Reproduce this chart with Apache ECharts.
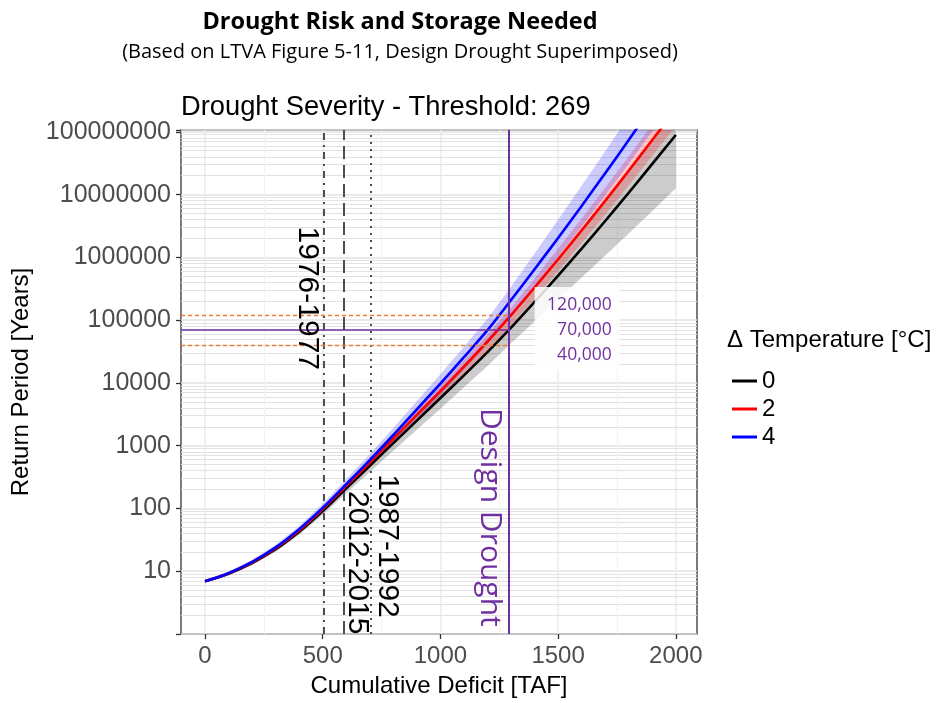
<!DOCTYPE html>
<html><head><meta charset="utf-8">
<script src="https://cdn.jsdelivr.net/npm/echarts@6/dist/echarts.min.js"></script>
<style>html,body{margin:0;padding:0;background:#fff}#c{width:940px;height:703px}</style>
</head><body><div id="c"></div>
<script>
// ---- data ----
const deficit = [0,100,200,300,400,500,600,700,800,900,1000,1100,1200,1300,1400,1500,1600,1700,1800,1900,2000];
// dT = 0
const rp0     = [6.9,9.1,13.5,22.4,42.7,91.2,209,479,1100,2510,5750,13200,30900,75900,195000,513000,1380000,3800000,10700000,30900000,89100000];
const rp0Low  = [6.6,8.7,12.6,20.4,38.0,79.4,174,380,832,1800,3890,8510,18600,42700,95500,214000,479000,1070000,2400000,5500000,12600000];
const rp0High = [7.2,9.5,14.5,24.0,46.8,102,240,575,1380,3310,7940,19500,49000,129000,355000,1000000,2880000,8510000,25700000,79400000,245000000];
// dT = 2
const rp2     = [6.9,9.2,13.8,23.2,44.7,97.7,229,537,1290,3090,7410,18200,45700,120000,331000,933000,2690000,7940000,24000000,74100000,229000000];
const rp2Low  = [6.6,8.8,13.0,21.6,40.7,87.1,197,447,1050,2430,5620,13300,32400,83200,221000,603000,1680000,4790000,14000000,41700000,124000000];
const rp2High = [7.2,9.7,14.6,24.8,49.0,110,260,624,1510,3720,9120,22900,58900,158000,457000,1380000,4170000,12900000,40700000,132000000,427000000];
// dT = 4
const rp4     = [6.9,9.3,14.1,24.0,46.8,102,243,589,1480,3800,9770,25700,69200,209000,646000,2040000,6610000,21900000,74100000,257000000,891000000];
const rp4Low  = [6.6,8.8,13.2,21.9,41.2,87.1,197,457,1100,2660,6460,16200,41700,120000,347000,1020000,3090000,9660000,30900000,102000000,339000000];
const rp4High = [7.2,9.9,15.1,26.3,52.5,119,292,733,1910,5130,13800,37600,105000,339000,1150000,3980000,13800000,49000000,178000000,661000000,2450000000];

const seriesNames = ['0','2','4'];
const droughtNames = ['1976-1977','2012-2015','1987-1992'];
const droughtDeficits = [505, 590, 705];
const designDrought = 1290;
const designRP = [120000, 70000, 40000];
const designRPLabels = ['120,000','70,000','40,000'];
const xTicks = [0,500,1000,1500,2000];
const xMinorTicks = [250,750,1250,1750];
const yTicks = [10,100,1000,10000,100000,1000000,10000000,100000000];

// ---- styling ----
const ARIAL = '"Liberation Sans", Arial, sans-serif';
const CAL = '"Open Sans", sans-serif';
const lineColors = ['#000000','#ff0000','#0000ff'];
const bandColors = ['rgba(0,0,0,0.2)','rgba(255,0,0,0.22)','rgba(0,0,255,0.2)'];
const PURPLE = '#7030a0', ORANGE = '#ed7d31';

const yMinor = [];
for (let k = 0; k < 8; k++) for (let m = 2; m <= 9; m++) yMinor.push(m * Math.pow(10, k));

const pairs = arr => deficit.map((x, i) => [x, arr[i]]);
const bandSets = [[rp0Low, rp0High],[rp2Low, rp2High],[rp4Low, rp4High]];
const lineSets = [rp0, rp2, rp4];

const series = [];
// helper for minor grid lines
series.push({
  type: 'line', name: 'grid', data: [[0, 10]], symbol: 'none', lineStyle: {opacity: 0}, z: 1, silent: true,
  markLine: {
    z: 1, silent: true, symbol: 'none', animation: false, label: {show: false},
    data: yMinor.map(v => ({yAxis: v, lineStyle: {color: '#e2e2e2', width: 1, type: 'solid'}}))
      .concat(xMinorTicks.map(v => ({xAxis: v, lineStyle: {color: '#f2f2f2', width: 1, type: 'solid'}})))
  }
});
// confidence ribbons as polygons through the axis scales
bandSets.forEach((b, i) => {
  series.push({
    type: 'custom', name: 'band' + i, z: 2, silent: true, animation: false,
    data: deficit.map((x, j) => [x, b[0][j], b[1][j]]),
    encode: {x: 0, y: [1, 2]},
    renderItem: (params, api) => {
      if (params.dataIndex !== 0) return null;
      const pts = [];
      for (let j = 0; j < deficit.length; j++) pts.push(api.coord([deficit[j], b[0][j]]));
      for (let j = deficit.length - 1; j >= 0; j--) pts.push(api.coord([deficit[j], b[1][j]]));
      const cs = params.coordSys;
      return {
        type: 'polygon', shape: {points: pts}, style: {fill: bandColors[i]},
        clipPath: {type: 'rect', shape: {x: cs.x, y: cs.y, width: cs.width, height: cs.height}}
      };
    }
  });
});
// historical drought lines
const dashTypes = [[7,5,2,5],[13,6],[2,5]];
series.push({
  type: 'line', name: 'droughts', data: [[0, 10]], symbol: 'none', lineStyle: {opacity: 0}, z: 3, silent: true,
  markLine: {
    z: 3, silent: true, symbol: 'none', animation: false, label: {show: false},
    data: droughtDeficits.map((v, i) => ({xAxis: v, lineStyle: {color: '#4d4d4d', width: 2, type: dashTypes[i]}}))
  }
});
lineSets.forEach((arr, i) => {
  series.push({
    type: 'line', name: seriesNames[i], data: pairs(arr), symbol: 'none', showSymbol: false, smooth: 0.3,
    color: lineColors[i], lineStyle: {color: lineColors[i], width: 2.6}, z: 4, animation: false
  });
});
// design drought overlays
series.push({
  type: 'line', name: 'design', data: [[0, 10]], symbol: 'none', lineStyle: {opacity: 0}, z: 5, silent: true,
  markLine: {
    z: 5, silent: true, symbol: 'none', animation: false, label: {show: false},
    data: [
      {xAxis: designDrought, lineStyle: {color: PURPLE, width: 2, type: 'solid'}},
      [{coord: [-102, designRP[0]], lineStyle: {color: ORANGE, width: 1.3, type: [4,3]}}, {coord: [designDrought, designRP[0]]}],
      [{coord: [-102, designRP[1]], lineStyle: {color: PURPLE, width: 1.5, type: 'solid'}}, {coord: [designDrought, designRP[1]]}],
      [{coord: [-102, designRP[2]], lineStyle: {color: ORANGE, width: 1.3, type: [4,3]}}, {coord: [designDrought, designRP[2]]}]
    ]
  }
});

const chart = echarts.init(document.getElementById('c'));
chart.setOption({
  animation: false,
  backgroundColor: '#ffffff',
  grid: {left: 181, top: 130, width: 516, height: 510, show: true, borderColor: '#333333', borderWidth: 1.3, backgroundColor: '#ffffff'},
  legend: {
    data: seriesNames, orient: 'vertical', left: 727, top: 364, icon: 'rect', itemWidth: 25, itemHeight: 3, itemGap: 4,
    textStyle: {fontSize: 24, color: '#000', fontFamily: ARIAL}, selectedMode: false
  },
  xAxis: {
    type: 'value', min: -102, max: 2090,
    axisLine: {show: false, onZero: false},
    axisTick: {show: true, customValues: xTicks, length: 5, lineStyle: {color: '#333', width: 1.3}},
    axisLabel: {customValues: xTicks, fontSize: 24, color: '#4d4d4d', fontFamily: ARIAL, margin: 10, formatter: v => String(v)},
    splitLine: {show: true, lineStyle: {color: '#ebebeb', width: 1.5}},
    name: 'Cumulative Deficit [TAF]', nameLocation: 'middle', nameGap: 40,
    nameTextStyle: {fontSize: 24, color: '#000', fontFamily: ARIAL}
  },
  yAxis: {
    type: 'log', logBase: 10, min: 1, max: 1.07e8,
    axisLine: {show: false, onZero: false},
    axisTick: {show: true, length: 5, lineStyle: {color: '#333', width: 1.3}},
    axisLabel: {
      fontSize: 25, color: '#4d4d4d', fontFamily: ARIAL, margin: 10,
      formatter: v => { const t = yTicks.find(d => Math.abs(d - v) / d < 1e-6); return t ? String(t) : ''; }
    },
    splitLine: {show: true, lineStyle: {color: '#e2e2e2', width: 1.6}},
    name: 'Return Period [Years]', nameLocation: 'middle', nameGap: 148,
    nameTextStyle: {fontSize: 24, color: '#000', fontFamily: ARIAL}
  },
  series: series
});

// annotations anchored through the chart's own scales
const px = (x, y) => chart.convertToPixel({gridIndex: 0}, [x, y]);
const T = (text, x, y, font, fill, align, vAlign, rot) => ({
  type: 'text', x: x, y: y, rotation: rot || 0, silent: true, z: 100,
  style: {text: text, font: font, fill: fill, align: align, verticalAlign: vAlign, textAlign: align, textVerticalAlign: vAlign}
});
const labelTops = [3.1e6, 190, 350];
const labelDx = [-17, 13, 16];
const g = [];
g.push(T('Drought Risk and Storage Needed', 400, 22, 'bold 23.5px ' + CAL, '#000', 'center', 'middle'));
g.push(T('(Based on LTVA Figure 5-11, Design Drought Superimposed)', 400, 52, '20px ' + CAL, '#000', 'center', 'middle'));
g.push(T('Drought Severity - Threshold: 269', 181, 107, '27.3px ' + ARIAL, '#000', 'left', 'middle'));
g.push(T('\u0394 Temperature [\u00b0C]', 727, 340, '24px ' + ARIAL, '#000', 'left', 'middle'));
droughtNames.forEach((n, i) => {
  const p = px(droughtDeficits[i], labelTops[i]);
  g.push(T(n, p[0] + labelDx[i], p[1], '30px ' + ARIAL, '#000', 'left', 'middle', -Math.PI / 2));
});
const pd = px(designDrought, 4000);
g.push(T('Design Drought', pd[0] - 19, pd[1], '30px ' + CAL, PURPLE, 'left', 'middle', -Math.PI / 2));
const p70 = px(designDrought, designRP[1]);
g.push({type: 'rect', silent: true, z: 90, shape: {x: p70[0] + 26, y: p70[1] - 43, width: 85, height: 83}, style: {fill: 'rgba(255,255,255,0.85)'}});
designRPLabels.forEach((t, i) => {
  g.push(T(t, p70[0] + 103, p70[1] + (i - 1) * 25, '17.5px ' + CAL, PURPLE, 'right', 'middle'));
});
chart.setOption({graphic: {elements: g}});
</script>
</body></html>
